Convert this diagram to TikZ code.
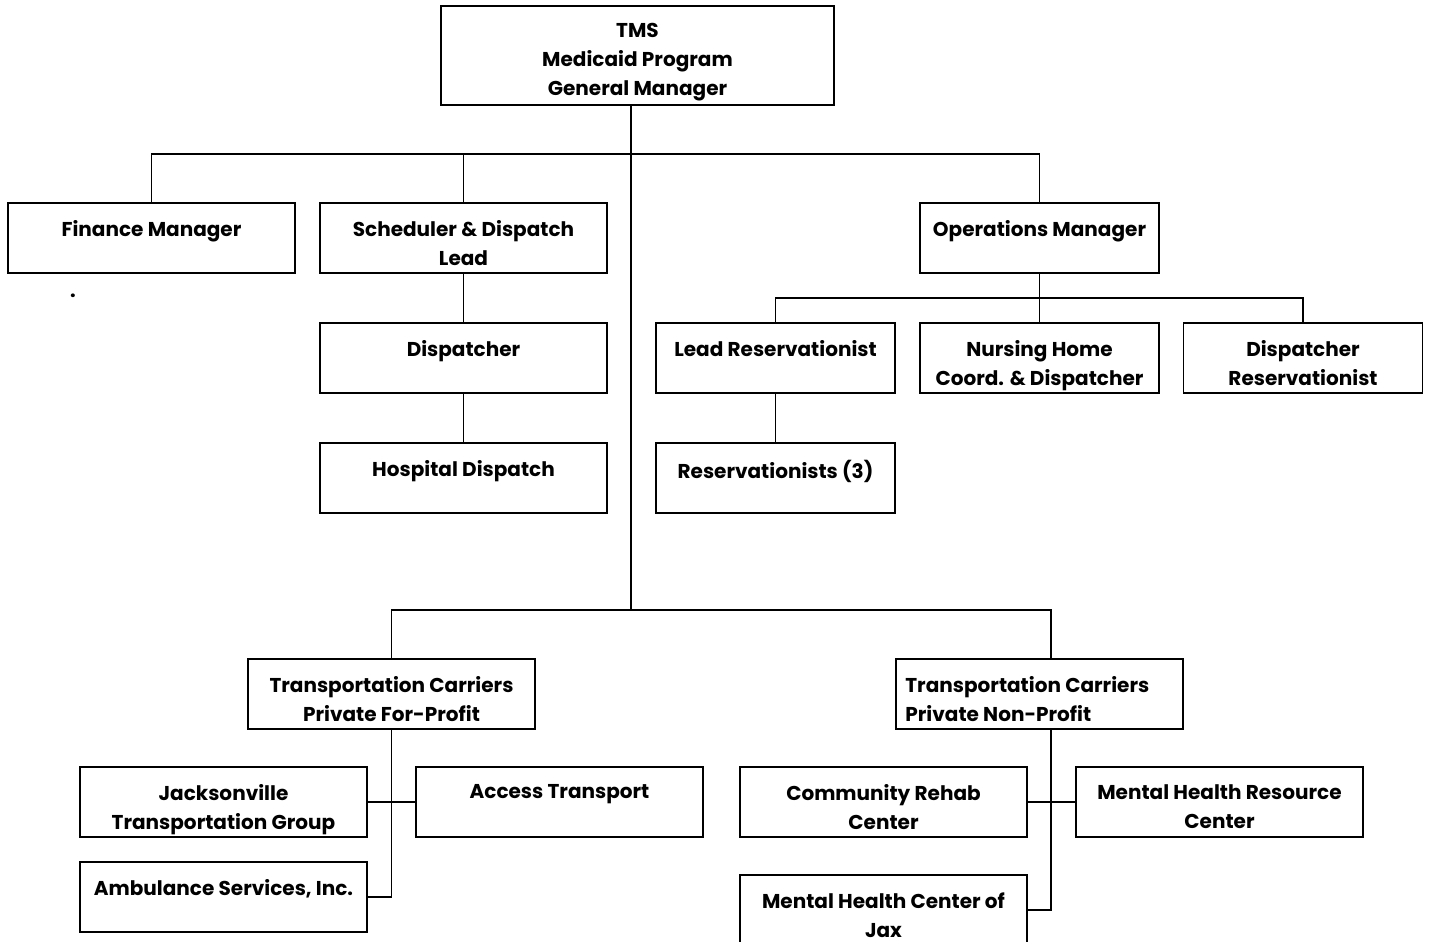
\documentclass[tikz,border=0pt]{standalone}
\usepackage{fontspec}
\setmainfont{Poppins}
\usetikzlibrary{positioning}

\tikzset{
  box/.style={draw, line width=1.1pt, inner sep=0pt,
    minimum width=287*0.02cm, minimum height=70*0.02cm},
  widebox/.style={box, minimum width=239*0.02cm},
  txt/.style={anchor=north, align=center, inner sep=0pt, yshift=-0.36cm,
    font=\fontsize{11.4}{16.5}\selectfont\bfseries},
  link/.style={line width=0.8pt}
}

\begin{document}
\begin{tikzpicture}[x=0.02cm, y=-0.02cm]
  \useasboundingbox (0,0) rectangle (1431,942);

  % top of the chart
  \node[box, minimum width=393*0.02cm, minimum height=99*0.02cm,
    label={[txt]north:TMS\\Medicaid Program\\General Manager}] (tms) at (637.5,55.5) {};

  % first level
  \node[box, label={[txt]north:Finance Manager}] (fin) at (151.5,238) {};
  \node[box, label={[txt]north:Scheduler \& Dispatch\\Lead}] (sched) at (463.5,238) {};
  \node[widebox, label={[txt]north:Operations Manager}] (ops) at (1039.5,238) {};
  \node[font=\fontsize{11.4}{16.5}\selectfont\bfseries] (dot) at (73,296) {.};

  % dispatch side
  \node[box, label={[txt]north:Dispatcher}] (disp) at (463.5,358) {};
  \node[box, label={[txt]north:Hospital Dispatch}] (hosp) at (463.5,478) {};

  % operations side
  \node[widebox, label={[txt]north:Lead Reservationist}] (lead) at (775.5,358) {};
  \node[widebox, label={[txt]north:Nursing Home\\Coord. \& Dispatcher}] (nurse) at (1039.5,358) {};
  \node[widebox, label={[txt]north:Dispatcher\\Reservationist}] (dres) at (1303,358) {};
  \node[widebox, label={[txt]north:Reservationists (3)}] (resv) at (775.5,478) {};

  % carriers
  \node[box, label={[txt]north:Transportation Carriers\\Private For-Profit}] (tcfp) at (391.5,694) {};
  \node[box, label={[txt, anchor=north west, align=left, xshift=0.2cm]north west:Transportation Carriers\\Private Non-Profit}] (tcnp) at (1039.5,694) {};

  \node[box, label={[txt]north:Jacksonville\\Transportation Group}] (jax) at (223.5,802) {};
  \node[box, label={[txt]north:Access Transport}] (acc) at (559.5,802) {};
  \node[box, label={[txt]north:Ambulance Services, Inc.}] (amb) at (223.5,897) {};

  \node[box, label={[txt]north:Community Rehab\\Center}] (crc) at (883.5,802) {};
  \node[box, label={[txt]north:Mental Health Resource\\Center}] (mhr) at (1219.5,802) {};
  \node[box, label={[txt]north:Mental Health Center of\\Jax}] (mhj) at (883.5,910) {};

  % connectors
  \coordinate (top) at (631,154);
  \coordinate (low) at (631,610);
  \coordinate (npx) at (1051,610);
  \draw[link] (tms.south -| top) -- (low);
  \draw[link] (fin.north) -- (fin.north |- top) -- (ops.north |- top) -- (ops.north);
  \draw[link] (sched.north) -- (sched.north |- top);
  \draw[link] (sched) -- (disp);
  \draw[link] (disp) -- (hosp);

  \coordinate (opbus) at (1039.5,298);
  \draw[link] (ops.south) -- (opbus);
  \draw[link] (lead.north) -- (lead.north |- opbus) -- (dres.north |- opbus) -- (dres.north);
  \draw[link] (nurse.north) -- (opbus);
  \draw[link] (lead) -- (resv);

  \draw[link] (tcfp.north) -- (tcfp.north |- low) -- (npx) -- (npx |- tcnp.north);
  \draw[link] (tcfp.south) -- (tcfp.south |- amb.east) -- (amb.east);
  \draw[link] (jax.east) -- (acc.west);
  \draw[link] (npx |- tcnp.south) -- (npx |- mhj.east) -- (mhj.east);
  \draw[link] (crc.east) -- (mhr.west);
\end{tikzpicture}
\end{document}
